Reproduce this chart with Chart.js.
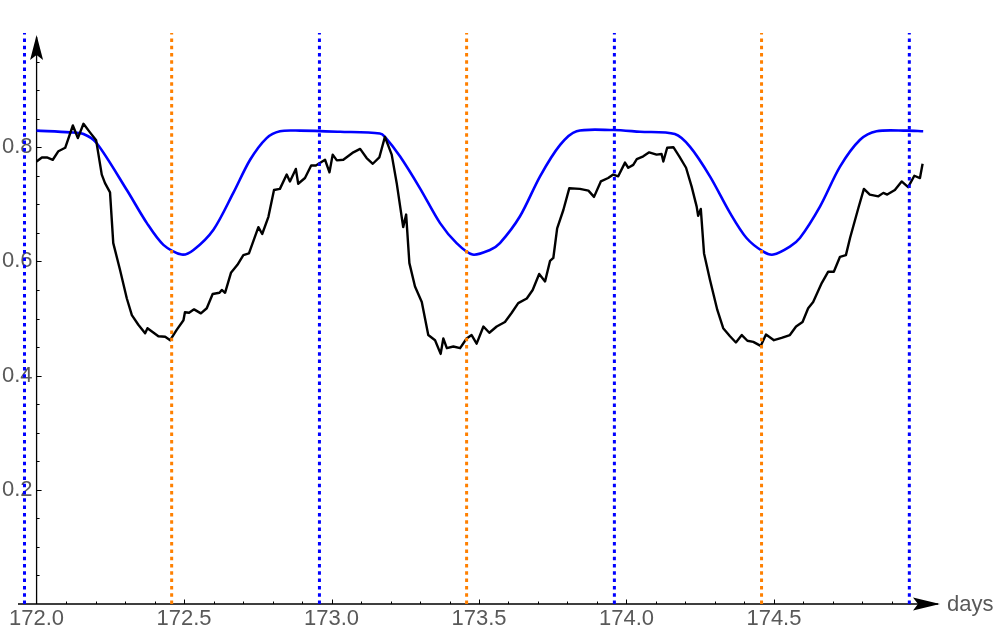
<!DOCTYPE html>
<html>
<head>
<meta charset="utf-8">
<script src="https://cdn.jsdelivr.net/npm/chart.js@4/dist/chart.umd.min.js"></script>
<style>
  html, body { margin: 0; padding: 0; background: #ffffff; }
  #chart { display: block; }
</style>
</head>
<body>
<canvas id="chart" width="1000" height="634"></canvas>
<script>
// measured series (black)
var blackDays = [
  172.000, 172.018, 172.035, 172.055, 172.074, 172.097, 172.123, 172.140, 172.159, 172.181,
  172.202, 172.221, 172.232, 172.249, 172.260, 172.283, 172.306, 172.323, 172.345, 172.368,
  172.376, 172.413, 172.436, 172.453, 172.475, 172.498, 172.503, 172.517, 172.534, 172.557,
  172.577, 172.597, 172.620, 172.628, 172.639, 172.659, 172.681, 172.701, 172.720, 172.752,
  172.765, 172.786, 172.805, 172.825, 172.848, 172.859, 172.879, 172.887, 172.910, 172.931,
  172.947, 172.978, 172.993, 173.004, 173.018, 173.040, 173.074, 173.097, 173.119, 173.140,
  173.162, 173.181, 173.204, 173.221, 173.243, 173.253, 173.264, 173.283, 173.306, 173.328,
  173.351, 173.370, 173.379, 173.391, 173.413, 173.436, 173.458, 173.475, 173.492, 173.515,
  173.535, 173.560, 173.588, 173.611, 173.633, 173.662, 173.682, 173.704, 173.724, 173.741,
  173.752, 173.765, 173.786, 173.806, 173.842, 173.871, 173.890, 173.913, 173.938, 173.955,
  173.972, 173.995, 174.006, 174.023, 174.035, 174.057, 174.077, 174.102, 174.119, 174.125,
  174.138, 174.159, 174.179, 174.202, 174.221, 174.238, 174.243, 174.252, 174.263, 174.283,
  174.308, 174.328, 174.351, 174.371, 174.391, 174.410, 174.430, 174.455, 174.473, 174.500,
  174.526, 174.554, 174.575, 174.597, 174.616, 174.633, 174.662, 174.684, 174.703, 174.724,
  174.744, 174.758, 174.786, 174.805, 174.825, 174.854, 174.871, 174.884, 174.910, 174.933,
  174.955, 174.976, 174.995, 175.004
];
var blackValues = [
  0.775, 0.782, 0.782, 0.778, 0.793, 0.799, 0.838, 0.816, 0.841, 0.826,
  0.812, 0.752, 0.737, 0.721, 0.632, 0.585, 0.535, 0.506, 0.489, 0.474,
  0.483, 0.469, 0.468, 0.462, 0.480, 0.497, 0.511, 0.510, 0.516, 0.509,
  0.518, 0.543, 0.545, 0.550, 0.545, 0.580, 0.594, 0.611, 0.614, 0.660,
  0.648, 0.678, 0.725, 0.727, 0.752, 0.740, 0.762, 0.736, 0.746, 0.768,
  0.768, 0.778, 0.756, 0.787, 0.777, 0.778, 0.791, 0.797, 0.781, 0.771,
  0.782, 0.818, 0.787, 0.737, 0.660, 0.682, 0.597, 0.556, 0.529, 0.471,
  0.462, 0.438, 0.465, 0.448, 0.451, 0.448, 0.465, 0.471, 0.456, 0.486,
  0.475, 0.486, 0.494, 0.510, 0.527, 0.535, 0.550, 0.578, 0.565, 0.601,
  0.606, 0.658, 0.690, 0.728, 0.727, 0.724, 0.713, 0.740, 0.746, 0.752,
  0.749, 0.773, 0.764, 0.769, 0.779, 0.784, 0.791, 0.787, 0.788, 0.775,
  0.799, 0.800, 0.784, 0.764, 0.731, 0.696, 0.680, 0.692, 0.614, 0.568,
  0.515, 0.483, 0.469, 0.458, 0.471, 0.461, 0.459, 0.452, 0.472, 0.462,
  0.466, 0.471, 0.486, 0.494, 0.518, 0.529, 0.562, 0.582, 0.582, 0.608,
  0.611, 0.641, 0.693, 0.727, 0.717, 0.714, 0.720, 0.717, 0.725, 0.740,
  0.730, 0.750, 0.746, 0.771
];

// model series (blue)
var blueDays = [
  172.000, 172.114, 172.159, 172.204, 172.306, 172.374, 172.430, 172.492, 172.532,
  172.599, 172.667, 172.724, 172.780, 172.825, 172.893, 173.029, 173.164, 173.181, 173.232,
  173.300, 173.368, 173.424, 173.478, 173.537, 173.571, 173.639, 173.707, 173.775,
  173.831, 173.955, 174.046, 174.164, 174.215, 174.283, 174.351, 174.407, 174.464, 174.498,
  174.554, 174.588, 174.656, 174.724, 174.792, 174.848, 174.950, 175.006
];
var blueValues = [
  0.829, 0.826, 0.823, 0.807, 0.725, 0.667, 0.629, 0.612, 0.620,
  0.655, 0.720, 0.778, 0.816, 0.828, 0.829, 0.827, 0.824, 0.818, 0.784,
  0.728, 0.667, 0.632, 0.612, 0.620, 0.632, 0.679, 0.749, 0.804,
  0.828, 0.830, 0.827, 0.823, 0.801, 0.749, 0.685, 0.641, 0.617, 0.612,
  0.626, 0.641, 0.696, 0.766, 0.813, 0.828, 0.829, 0.828
];

// vertical markers
var blueMarkerDays = [171.959, 172.959, 173.959, 174.959];
var orangeMarkerDays = [172.458, 173.458, 174.458];

// axes
var xTicks = [172.0, 172.5, 173.0, 173.5, 174.0, 174.5];
var xTickLabels = ["172.0", "172.5", "173.0", "173.5", "174.0", "174.5"];
var yTicks = [0.2, 0.4, 0.6, 0.8];
var yTickLabels = ["0.2", "0.4", "0.6", "0.8"];
var xAxisLabel = "days";

function pairs(xs, ys) {
  return xs.map(function (x, i) {
    return { x: x, y: ys[i] };
  });
}

function markerSets(days, color) {
  return days.map(function (d) {
    return {
      data: [{ x: d, y: 0 }, { x: d, y: 1.0 }],
      borderColor: color,
      borderWidth: 3,
      borderDash: [3.5, 3.8],
      pointRadius: 0,
      order: 0,
    };
  });
}

// draw axes with ticks and arrows at x=172 / y=0, like the original
var axesPlugin = {
  id: "axes",
  beforeDatasetsDraw: function (chart) {
    var ctx = chart.ctx;
    var xs = chart.scales.x;
    var ys = chart.scales.y;
    var area = chart.chartArea;
    var x0 = xs.getPixelForValue(172.0);
    var y0 = ys.getPixelForValue(0);

    ctx.save();
    ctx.strokeStyle = "#000000";
    ctx.fillStyle = "#000000";
    ctx.lineWidth = 1.3;

    ctx.beginPath();
    ctx.moveTo(area.left, y0);
    ctx.lineTo(area.right - 2, y0);
    ctx.moveTo(x0, y0);
    ctx.lineTo(x0, area.top + 4);
    ctx.stroke();

    ctx.lineWidth = 1;
    // x ticks every 0.1
    for (var i = 1; i <= 29; i++) {
      var v = 172 + i * 0.1;
      var major = i % 5 === 0;
      var px = Math.round(xs.getPixelForValue(v)) + 0.5;
      ctx.beginPath();
      ctx.moveTo(px, y0);
      ctx.lineTo(px, y0 - (major ? 4.5 : 2.5));
      ctx.stroke();
    }
    // y ticks every 0.05
    for (var j = 1; j <= 19; j++) {
      var w = j * 0.05;
      var ymajor = j % 4 === 0;
      var py = Math.round(ys.getPixelForValue(w)) + 0.5;
      ctx.beginPath();
      ctx.moveTo(x0, py);
      ctx.lineTo(x0 + (ymajor ? 5 : 3), py);
      ctx.stroke();
    }

    // arrowheads
    var tipX = area.right;
    ctx.beginPath();
    ctx.moveTo(tipX, y0);
    ctx.lineTo(tipX - 27, y0 - 6.5);
    ctx.lineTo(tipX - 22, y0);
    ctx.lineTo(tipX - 27, y0 + 6.5);
    ctx.closePath();
    ctx.fill();

    var tipY = area.top + 2;
    ctx.beginPath();
    ctx.moveTo(x0, tipY);
    ctx.lineTo(x0 - 6.5, tipY + 25);
    ctx.lineTo(x0, tipY + 20);
    ctx.lineTo(x0 + 6.5, tipY + 25);
    ctx.closePath();
    ctx.fill();

    // labels
    ctx.font = "22px 'Liberation Sans', Arial, sans-serif";
    ctx.fillStyle = "#595959";
    ctx.textAlign = "center";
    ctx.textBaseline = "middle";
    xTicks.forEach(function (t, k) {
      ctx.fillText(xTickLabels[k], xs.getPixelForValue(t), y0 + 15);
    });
    ctx.textAlign = "right";
    yTicks.forEach(function (t, k) {
      ctx.fillText(yTickLabels[k], x0 - 4, ys.getPixelForValue(t));
    });
    ctx.textAlign = "left";
    ctx.textBaseline = "alphabetic";
    ctx.fillText(xAxisLabel, tipX + 7, y0 + 7);
    ctx.restore();
  },
};

var datasets = []
  .concat(markerSets(blueMarkerDays, "#0000ff"))
  .concat(markerSets(orangeMarkerDays, "#ff8000"))
  .concat([
    {
      data: pairs(blackDays, blackValues),
      borderColor: "#000000",
      borderWidth: 2.4,
      borderJoinStyle: "round",
      pointRadius: 0,
      tension: 0,
      order: 1,
    },
    {
      data: pairs(blueDays, blueValues),
      borderColor: "#0000ff",
      borderWidth: 2.6,
      pointRadius: 0,
      tension: 0.3,
      order: 2,
    },
  ]);

new Chart(document.getElementById("chart"), {
  type: "line",
  data: { datasets: datasets },
  options: {
    responsive: false,
    animation: false,
    devicePixelRatio: 1,
    layout: { padding: { left: 18, right: 60, top: 33, bottom: 30 } },
    plugins: {
      legend: { display: false },
      tooltip: { enabled: false },
    },
    scales: {
      x: { type: "linear", min: 171.937, max: 175.063, display: false },
      y: { type: "linear", min: 0, max: 1.0, display: false },
    },
  },
  plugins: [axesPlugin],
});
</script>
</body>
</html>
